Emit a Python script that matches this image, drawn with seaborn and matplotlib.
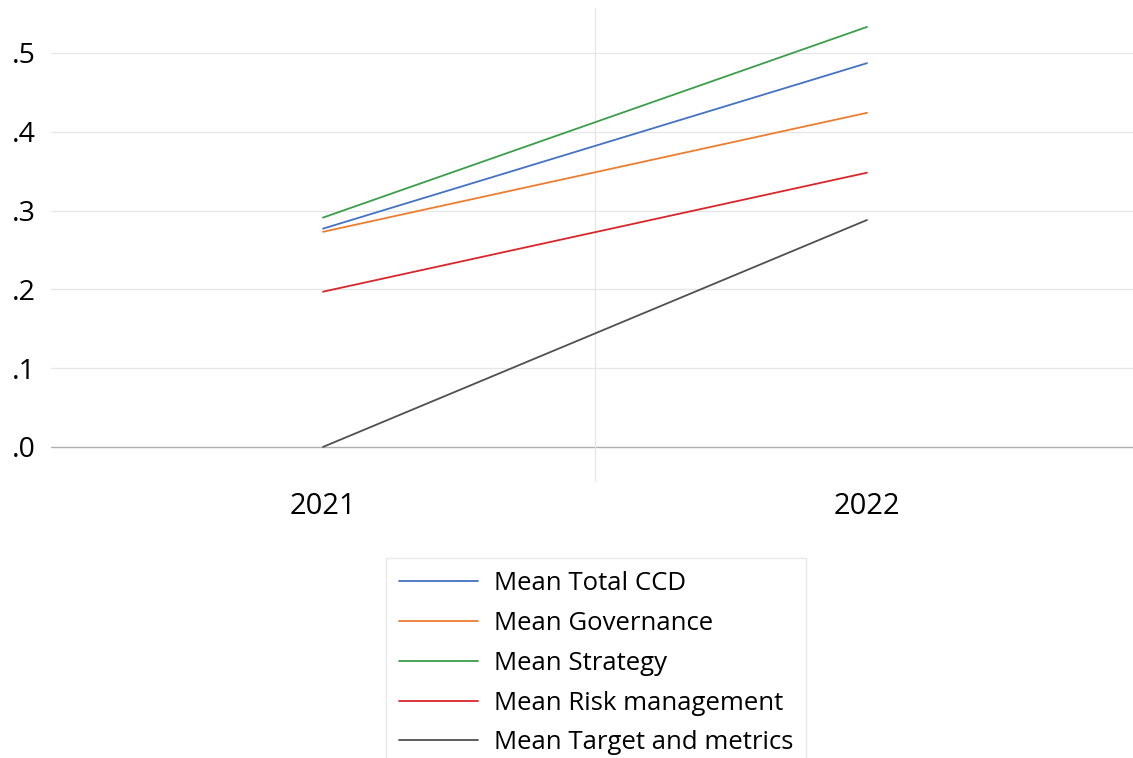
import matplotlib
matplotlib.use("Agg")
import matplotlib.pyplot as plt
import seaborn as sns
import pandas as pd

years = ["2021", "2022"]
series = ["Mean Total CCD", "Mean Governance", "Mean Strategy",
          "Mean Risk management", "Mean Target and metrics"]
total_ccd = [0.277, 0.487]
governance = [0.273, 0.424]
strategy = [0.291, 0.533]
risk_management = [0.197, 0.348]
target_metrics = [0.0, 0.288]
yticks = [0.0, 0.1, 0.2, 0.3, 0.4, 0.5]
ytick_labels = [".0", ".1", ".2", ".3", ".4", ".5"]
colors = ["#4472C4", "#ED7D31", "#3C9D4A", "#D9262C", "#505050"]

values = [total_ccd, governance, strategy, risk_management, target_metrics]
rows = []
for name, vals in zip(series, values):
    for i, (yr, v) in enumerate(zip(years, vals)):
        rows.append({"pos": i, "year": yr, "series": name, "value": v})
df = pd.DataFrame(rows)

sns.set_theme(style="white")
plt.rcParams["font.family"] = ["Open Sans", "DejaVu Sans"]
plt.rcParams["text.color"] = "#000000"
plt.rcParams["xtick.color"] = "#000000"
plt.rcParams["ytick.color"] = "#000000"

fig = plt.figure(figsize=(11.33, 7.58), dpi=100)
ax = fig.add_axes([51 / 1133, 1 - 482 / 758, 1088 / 1133, 474 / 758])

sns.lineplot(data=df, x="pos", y="value", hue="series", hue_order=series,
             palette=dict(zip(series, colors)), linewidth=1.3, ax=ax,
             legend=False)

ax.set_xlim(-0.5, 1.5)
ax.set_ylim(-0.0445, 0.557)
ax.set_xticks([0, 1])
ax.set_xticklabels(years, fontsize=21)
ax.set_yticks(yticks)
ax.set_yticklabels(ytick_labels, fontsize=20.5)
ax.tick_params(axis="y", length=0, pad=11)
ax.tick_params(axis="x", length=0, pad=7)
ax.set_xlabel("")
ax.set_ylabel("")
for s in ax.spines.values():
    s.set_visible(False)
for t in yticks[1:]:
    ax.axhline(t, color="#E6E6E6", linewidth=0.9, zorder=0)
ax.axhline(0, color="#AFAFAF", linewidth=1.0, zorder=0)
ax.axvline(0.5, color="#E6E6E6", linewidth=0.9, zorder=0)

handles = [plt.Line2D([], [], color=c, linewidth=1.3) for c in colors]
leg = fig.legend(handles, series, loc="upper center",
                 bbox_to_anchor=(596 / 1133, 1 - 558 / 758),
                 fontsize=18.5, frameon=True, fancybox=False,
                 handlelength=3.1, handletextpad=0.6, labelspacing=0.58,
                 borderpad=0.5, borderaxespad=0)
leg.get_frame().set_edgecolor("#E3E3E3")
leg.get_frame().set_linewidth(1.0)

fig.savefig("out.png", dpi=100)
